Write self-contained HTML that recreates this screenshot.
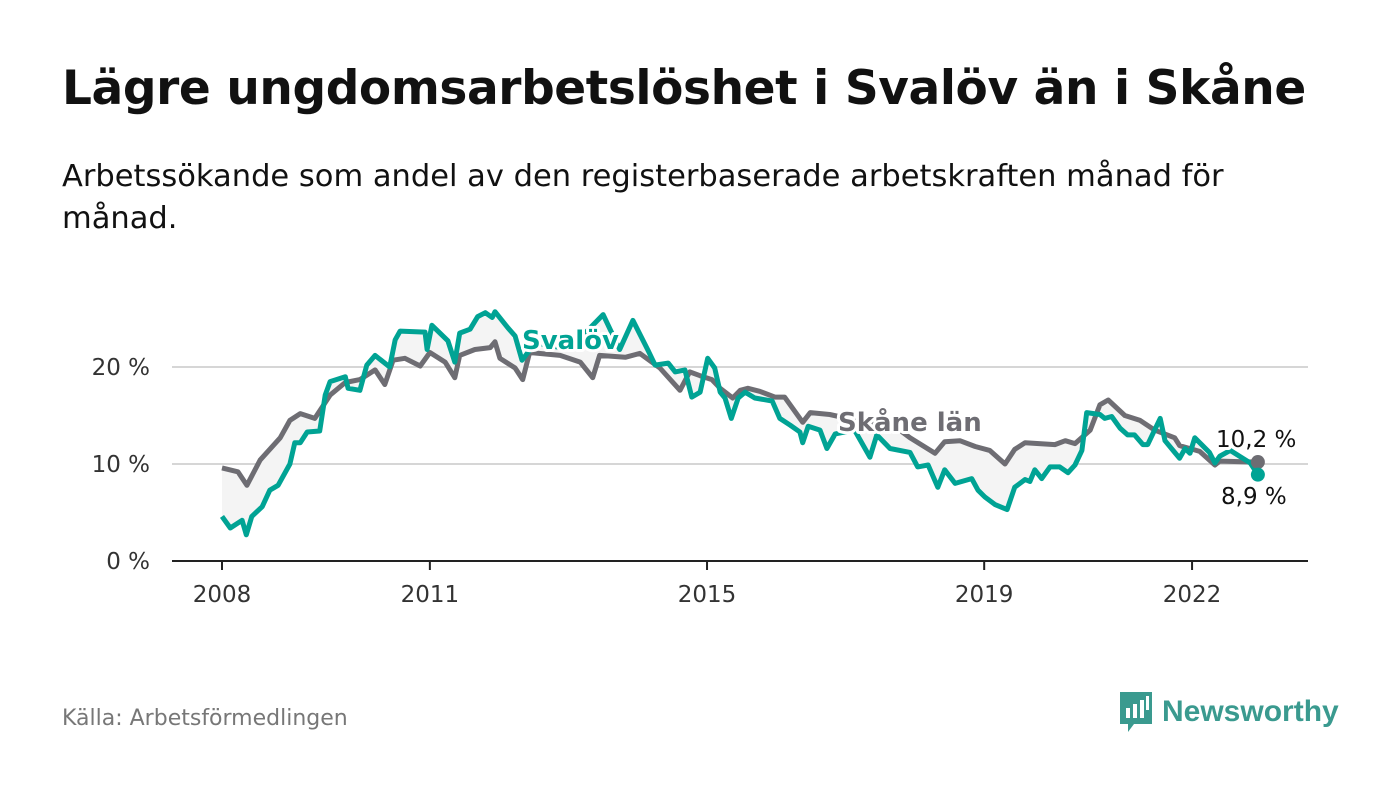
<!DOCTYPE html>
<html><head><meta charset="utf-8"><style>
body{margin:0;width:1400px;height:794px;background:#fff;font-family:"Liberation Sans","DejaVu Sans",sans-serif;overflow:hidden}
h1{position:absolute;left:62px;top:61px;margin:0;font-size:47px;font-weight:bold;color:#111;font-family:"DejaVu Sans","Liberation Sans",sans-serif;letter-spacing:-0.4px}
.sub{position:absolute;left:62px;top:156px;width:1200px;font-size:30.5px;line-height:42px;color:#111;font-family:"DejaVu Sans","Liberation Sans",sans-serif}
.src{position:absolute;left:62px;top:706px;font-size:22px;color:#777;font-family:"DejaVu Sans",sans-serif}
.logo{position:absolute;left:1118px;top:690px;display:flex;align-items:center;gap:8px}
.logo span{font-size:30px;font-weight:bold;color:#3a9a8f;font-family:"Liberation Sans",sans-serif}
svg text{font-family:"DejaVu Sans","Liberation Sans",sans-serif}
</style></head><body>
<h1>Lägre ungdomsarbetslöshet i Svalöv än i Skåne</h1>
<div class="sub">Arbetssökande som andel av den registerbaserade arbetskraften månad för månad.</div>
<svg id="chart" width="1400" height="794" style="position:absolute;left:0;top:0"></svg>
<div class="src">Källa: Arbetsförmedlingen</div>
<div class="logo">
<svg width="36" height="44" viewBox="0 0 36 44"><path d="M2 2h32v32H16l-6 8v-8H2z" fill="#3a9a8f"/><rect x="8" y="18" width="4" height="10" fill="#fff"/><rect x="15" y="14" width="4" height="14" fill="#fff"/><rect x="22" y="10" width="4" height="18" fill="#fff"/><rect x="28" y="6" width="3" height="14" fill="#fff"/></svg>
<span>Newsworthy</span></div>
<script>
const yTicks=[0,10,20];
const xTicks=[2008,2011,2015,2019,2022];
const skaneDates=[2008.00,2008.23,2008.36,2008.55,2008.84,2008.98,2009.13,2009.34,2009.56,2009.78,2009.99,2010.21,2010.35,2010.47,2010.64,2010.86,2011.00,2011.22,2011.36,2011.43,2011.65,2011.87,2011.94,2012.01,2012.23,2012.34,2012.44,2012.88,2013.17,2013.35,2013.45,2013.82,2014.03,2014.32,2014.61,2014.75,2014.90,2015.07,2015.19,2015.37,2015.48,2015.59,2015.76,2015.98,2016.12,2016.38,2016.49,2016.77,2017.35,2017.78,2017.93,2018.29,2018.43,2018.65,2018.87,2019.08,2019.30,2019.44,2019.59,2020.02,2020.17,2020.31,2020.53,2020.67,2020.79,2021.03,2021.25,2021.46,2021.75,2021.82,2022.11,2022.33,2022.40,2022.95];
const skaneValues=[9.6,9.2,7.8,10.4,12.7,14.5,15.2,14.7,17.1,18.4,18.7,19.7,18.2,20.7,20.9,20.1,21.5,20.5,18.9,21.2,21.8,22.0,22.6,20.9,19.9,18.7,21.5,21.2,20.5,18.9,21.2,21.0,21.4,19.9,17.6,19.5,19.1,18.7,17.8,16.8,17.6,17.8,17.5,16.9,16.9,14.3,15.3,15.1,14.2,13.5,12.7,11.1,12.3,12.4,11.8,11.4,10.0,11.5,12.2,12.0,12.4,12.1,13.5,16.1,16.6,15.0,14.5,13.5,12.7,11.9,11.3,9.9,10.3,10.2];
const svalovDates=[2008.00,2008.12,2008.29,2008.35,2008.43,2008.58,2008.69,2008.81,2008.98,2009.05,2009.13,2009.23,2009.41,2009.49,2009.56,2009.78,2009.82,2009.99,2010.09,2010.21,2010.42,2010.50,2010.57,2010.93,2010.96,2011.03,2011.26,2011.36,2011.43,2011.58,2011.69,2011.80,2011.90,2011.94,2012.13,2012.23,2012.33,2012.52,2012.88,2013.24,2013.50,2013.74,2013.93,2014.15,2014.25,2014.44,2014.54,2014.68,2014.78,2014.90,2015.01,2015.11,2015.19,2015.26,2015.35,2015.45,2015.55,2015.69,2015.94,2016.05,2016.20,2016.34,2016.38,2016.46,2016.63,2016.73,2016.85,2017.13,2017.35,2017.45,2017.64,2017.93,2018.04,2018.19,2018.33,2018.43,2018.58,2018.82,2018.91,2019.01,2019.16,2019.33,2019.44,2019.59,2019.66,2019.73,2019.83,2019.95,2020.09,2020.21,2020.31,2020.41,2020.48,2020.67,2020.74,2020.84,2020.96,2021.07,2021.17,2021.29,2021.36,2021.46,2021.54,2021.61,2021.75,2021.82,2021.90,2021.97,2022.04,2022.25,2022.33,2022.40,2022.55,2022.84,2022.95];
const svalovValues=[4.6,3.4,4.2,2.7,4.6,5.6,7.3,7.8,10.0,12.2,12.2,13.3,13.4,17.1,18.5,19.0,17.8,17.6,20.2,21.2,20.0,22.8,23.7,23.6,21.8,24.3,22.7,20.5,23.5,23.9,25.2,25.6,25.1,25.7,24.0,23.2,20.7,22.5,22.0,23.5,25.4,21.8,24.8,21.7,20.2,20.4,19.5,19.7,16.9,17.4,20.9,19.9,17.4,16.8,14.7,16.8,17.4,16.8,16.5,14.7,14.0,13.3,12.2,13.9,13.5,11.6,13.1,13.5,10.7,13.0,11.6,11.2,9.7,9.9,7.6,9.4,8.0,8.5,7.3,6.6,5.8,5.3,7.6,8.4,8.2,9.4,8.5,9.7,9.7,9.1,9.9,11.4,15.3,15.1,14.7,14.9,13.7,13.0,13.0,12.0,12.0,13.5,14.7,12.4,11.2,10.6,11.6,11.1,12.7,11.2,10.1,10.8,11.4,10.1,8.9];
const NS='http://www.w3.org/2000/svg';
const svg=document.getElementById('chart');
const X=d=>222+(d-2008)*69.29;
const Y=v=>561-v*9.7;
function mk(t,a,p){const e=document.createElementNS(NS,t);for(const k in a)e.setAttribute(k,a[k]);(p||svg).appendChild(e);return e;}
yTicks.forEach(v=>{
 const g=mk('line',{x1:172,x2:1308,y1:Y(v),y2:Y(v),stroke:v===0?'#222':'#d6d6d6','stroke-width':2});
 
 
 const t=mk('text',{x:150,y:Y(v)+8,'text-anchor':'end','font-size':23,fill:'#333'});t.textContent=v+' %';
 
 
});
xTicks.forEach(v=>{
 const l=mk('line',{x1:X(v),x2:X(v),y1:561,y2:570,stroke:'#222','stroke-width':2});
 
 
 const t=mk('text',{x:X(v),y:602,'text-anchor':'middle','font-size':23,fill:'#333'});t.textContent=v;
 
 
});
const pts=(ds,vs)=>ds.map((d,i)=>X(d).toFixed(1)+','+Y(vs[i]).toFixed(1));
const area=mk('polygon',{points:pts(svalovDates,svalovValues).concat(pts(skaneDates,skaneValues).reverse()).join(' '),fill:'#f4f4f4'});


const gl=mk('polyline',{points:pts(skaneDates,skaneValues).join(' '),fill:'none',stroke:'#6e6d73','stroke-width':5,'stroke-linejoin':'round'});


const sl=mk('polyline',{points:pts(svalovDates,svalovValues).join(' '),fill:'none',stroke:'#00a394','stroke-width':5,'stroke-linejoin':'round'});


const ld=skaneDates.length-1, lv=svalovDates.length-1;
const d1=mk('circle',{cx:X(skaneDates[ld]),cy:Y(skaneValues[ld]),r:7,fill:'#6e6d73'});


const d2=mk('circle',{cx:X(svalovDates[lv]),cy:Y(svalovValues[lv]),r:7,fill:'#00a394'});


function lab(txt,x,y,size,col,bold,name){
 const t=mk('text',{x:x,y:y,'font-size':size,fill:col,'font-weight':bold?'bold':'normal',stroke:'#fff','stroke-width':6,'paint-order':'stroke','stroke-linejoin':'round'});
 t.textContent=txt;
 
 
}
lab('Svalöv',522,349,26,'#00a394',true,'svalov-label');
lab('Skåne län',838,431,26,'#6e6d73',true,'skane-label');
lab(String(skaneValues[ld]).replace('.',',')+' %',1216,447,23,'#111',false,'skane-end-value');
lab(String(svalovValues[lv]).replace('.',',')+' %',1221,504,23,'#111',false,'svalov-end-value');
</script>
</body></html>
